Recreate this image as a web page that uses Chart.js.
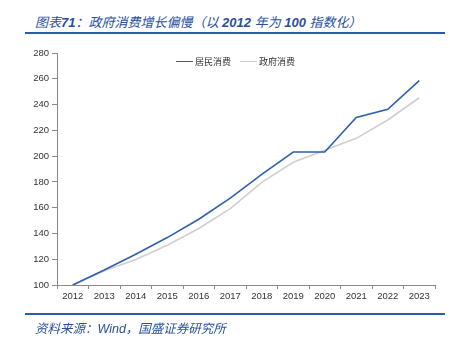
<!DOCTYPE html>
<html><head><meta charset="utf-8">
<script src="https://cdn.jsdelivr.net/npm/chart.js@4/dist/chart.umd.min.js"></script>
<style>
html,body{margin:0;padding:0;background:#fff;}
#wrap{position:relative;width:450px;height:342px;overflow:hidden;font-family:"Liberation Sans","Noto Sans CJK SC",sans-serif;}
#title{position:absolute;left:35px;top:12px;font-size:13px;font-style:italic;color:#2a4f9e;white-space:nowrap;font-family:"Liberation Sans","Noto Sans CJK SC",sans-serif;}
#title b{font-weight:bold;}
.rule{position:absolute;left:25px;width:420px;height:2px;background:#2a5cab;}
#source{position:absolute;left:35px;top:318px;font-size:12.5px;font-style:italic;color:#2a4f9e;white-space:nowrap;}
#chart{position:absolute;left:0;top:0;}
#legend{position:absolute;top:55px;left:176px;font-size:9px;color:#333;font-family:"Noto Sans CJK SC",sans-serif;white-space:nowrap;}
#legend span.item{display:inline-block;margin-right:9px;}
#legend i{display:inline-block;width:17px;height:0;vertical-align:middle;margin-right:2px;position:relative;top:-1px;}
</style></head>
<body>
<div id="wrap">
  <div id="title">图表<b>71</b>：政府消费增长偏慢（以 <b>2012</b> 年为 <b>100</b> 指数化）</div>
  <div class="rule" style="top:32px"></div>
  <canvas id="chart" width="450" height="342"></canvas>
  <div id="legend"></div>
  <div class="rule" style="top:313px"></div>
  <div id="source">资料来源：Wind，国盛证券研究所</div>
</div>
<script>
const years = ["2012","2013","2014","2015","2016","2017","2018","2019","2020","2021","2022","2023"];
const seriesNames = ["居民消费","政府消费"];
const household = [100,111.6,123.9,136.8,151,167.4,185.8,203.2,203.2,230,236.3,258.6];
const government = [100,111,119.8,130.9,143.8,159.2,179.7,195.2,204.5,213.8,228,245.3];
const colors = ["#2f5fae","#cfcfcf"];
const yMin = 100, yMax = 280, yStep = 20;

const legend = document.getElementById('legend');
seriesNames.forEach((n,i)=>{
  const s = document.createElement('span'); s.className='item';
  const l = document.createElement('i'); l.style.borderTop = '1.6px solid '+colors[i];
  s.appendChild(l); s.appendChild(document.createTextNode(n)); legend.appendChild(s);
});

new Chart(document.getElementById('chart'), {
  type: 'line',
  data: {
    labels: years,
    datasets: [
      {label: seriesNames[0], data: household, borderColor: colors[0], borderWidth: 1.6, pointRadius: 0, tension: 0, fill: false},
      {label: seriesNames[1], data: government, borderColor: colors[1], borderWidth: 1.6, pointRadius: 0, tension: 0, fill: false}
    ]
  },
  options: {
    responsive: false, animation: false,
    layout: {padding: {left: 0, right: 15, top: 53, bottom: 0}},
    plugins: {legend: {display: false}, tooltip: {enabled: false}},
    scales: {
      x: {
        offset: true,
        grid: {display: true, offset: true, drawOnChartArea: false, tickLength: 4, color: '#8a8a8a'},
        border: {color: '#8a8a8a', width: 1},
        ticks: {color: '#333', font: {family: 'Liberation Sans', size: 9.5}, padding: 2, maxRotation: 0, autoSkip: false},
        afterFit: s => { s.height = 57; }
      },
      y: {
        min: yMin, max: yMax,
        grid: {display: true, drawOnChartArea: false, tickLength: 5, color: '#8a8a8a'},
        border: {color: '#8a8a8a', width: 1},
        ticks: {stepSize: yStep, color: '#333', font: {family: 'Liberation Sans', size: 9.5}, padding: 3},
        afterFit: s => { s.width = 57; }
      }
    }
  }
});
</script>
</body></html>
